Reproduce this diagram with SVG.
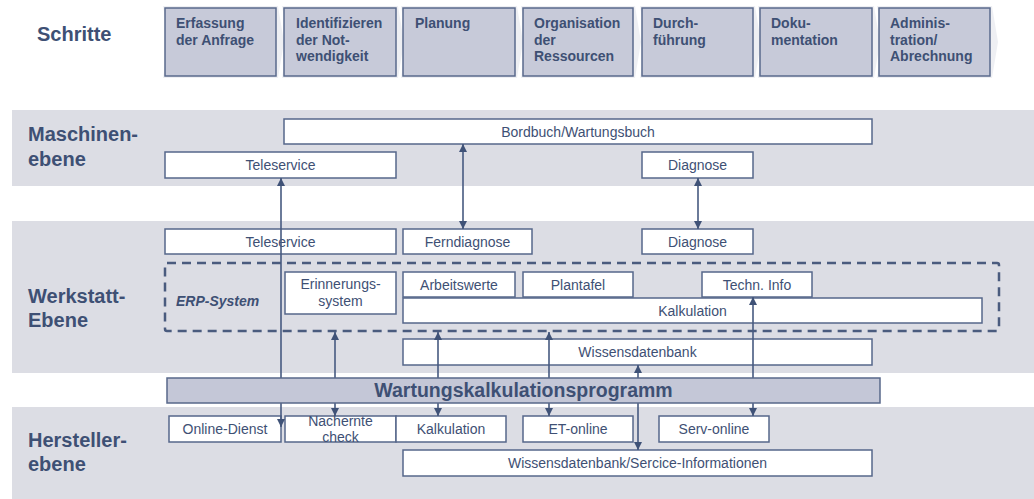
<svg xmlns="http://www.w3.org/2000/svg" width="1034" height="499" viewBox="0 0 1034 499">
<defs>
<style>
.band{fill:#dcdde4;}
.step{fill:#c7cad9;stroke:#5a6a8c;stroke-width:1.5;}
.chev{fill:#eeeff3;}
.box{fill:#ffffff;stroke:#56678a;stroke-width:1.5;}
.st{font-family:"Liberation Sans",Arial,sans-serif;font-weight:bold;font-size:14px;fill:#3e5074;}
.lvl{font-family:"Liberation Sans",Arial,sans-serif;font-weight:bold;font-size:20px;fill:#3e5074;}
.lb{font-family:"Liberation Sans",Arial,sans-serif;font-size:14px;fill:#3e5074;text-anchor:middle;}
.conn{stroke:#475a80;stroke-width:1.6;fill:none;marker-start:url(#ah);marker-end:url(#ah);}
.erp{fill:none;stroke:#4a5b7e;stroke-width:2.5;stroke-dasharray:9 6;}
.bar{fill:#c4c7d7;stroke:#58688a;stroke-width:1.5;}
</style>
<marker id="ah" viewBox="0 0 10 10" refX="10" refY="5" markerWidth="9" markerHeight="8" markerUnits="userSpaceOnUse" orient="auto-start-reverse">
<path d="M0,0 L10,5 L0,10 Z" fill="#3f5277"/>
</marker>
</defs>
<rect width="1034" height="499" fill="#ffffff"/>

<g id="bands">
<rect class="band" x="12" y="110" width="1022" height="76"/>
<rect class="band" x="12" y="221" width="1022" height="152"/>
<rect class="band" x="12" y="407" width="1022" height="92"/>
</g>

<g id="level-labels">
<text class="lvl" x="37" y="41" font-size="19.5">Schritte</text>
<text class="lvl" x="28" y="141">Maschinen-</text>
<text class="lvl" x="28" y="166">ebene</text>
<text class="lvl" x="28" y="303">Werkstatt-</text>
<text class="lvl" x="28" y="327">Ebene</text>
<text class="lvl" x="28" y="447">Hersteller-</text>
<text class="lvl" x="28" y="471">ebene</text>
</g>

<g id="steps">
<g id="step1">
<polygon class="chev" points="163,6 278,6 284,42 278,78 163,78 169,42"/>
<rect class="step" x="165" y="8" width="111" height="68"/>
<text class="st" x="176" y="28">Erfassung</text>
<text class="st" x="176" y="44.5">der Anfrage</text>
</g>
<g id="step2">
<polygon class="chev" points="282,6 398,6 404,42 398,78 282,78 288,42"/>
<rect class="step" x="284" y="8" width="112" height="68"/>
<text class="st" x="296" y="28">Identifizieren</text>
<text class="st" x="296" y="44.5">der Not-</text>
<text class="st" x="296" y="61">wendigkeit</text>
</g>
<g id="step3">
<polygon class="chev" points="401,6 517,6 523,42 517,78 401,78 407,42"/>
<rect class="step" x="403" y="8" width="112" height="68"/>
<text class="st" x="415" y="28">Planung</text>
</g>
<g id="step4">
<polygon class="chev" points="521,6 635,6 641,42 635,78 521,78 527,42"/>
<rect class="step" x="523" y="8" width="110" height="68"/>
<text class="st" x="534" y="28">Organisation</text>
<text class="st" x="534" y="44.5">der</text>
<text class="st" x="534" y="61">Ressourcen</text>
</g>
<g id="step5">
<polygon class="chev" points="640,6 755,6 761,42 755,78 640,78 646,42"/>
<rect class="step" x="642" y="8" width="111" height="68"/>
<text class="st" x="653" y="28">Durch-</text>
<text class="st" x="653" y="44.5">führung</text>
</g>
<g id="step6">
<polygon class="chev" points="758,6 874,6 880,42 874,78 758,78 764,42"/>
<rect class="step" x="760" y="8" width="112" height="68"/>
<text class="st" x="771" y="28">Doku-</text>
<text class="st" x="771" y="44.5">mentation</text>
</g>
<g id="step7">
<polygon class="chev" points="877,6 992,6 998,42 992,78 877,78 883,42"/>
<rect class="step" x="879" y="8" width="111" height="68"/>
<text class="st" x="890" y="28">Adminis-</text>
<text class="st" x="890" y="44.5">tration/</text>
<text class="st" x="890" y="61">Abrechnung</text>
</g>
</g>

<g id="maschinen-nodes">
<g id="bordbuch"><rect class="box" x="284" y="119" width="588" height="25"/><text class="lb" x="578" y="136.5">Bordbuch/Wartungsbuch</text></g>
<g id="teleservice-m"><rect class="box" x="165" y="152" width="231" height="26"/><text class="lb" x="280.5" y="170">Teleservice</text></g>
<g id="diagnose-m"><rect class="box" x="642" y="152" width="111" height="26"/><text class="lb" x="697.5" y="170">Diagnose</text></g>
</g>

<g id="werkstatt-nodes">
<g id="teleservice-w"><rect class="box" x="165" y="229" width="231" height="25"/><text class="lb" x="280.5" y="246.5">Teleservice</text></g>
<g id="ferndiagnose"><rect class="box" x="403" y="229" width="129" height="25"/><text class="lb" x="467.5" y="246.5">Ferndiagnose</text></g>
<g id="diagnose-w"><rect class="box" x="642" y="229" width="111" height="25"/><text class="lb" x="697.5" y="246.5">Diagnose</text></g>
<g id="erp-system">
<rect class="erp" x="165" y="263" width="834" height="68" rx="2"/>
<text x="176" y="306" font-family="Liberation Sans, Arial, sans-serif" font-size="14" font-weight="bold" font-style="italic" fill="#3e5074">ERP-System</text>
</g>
<g id="erinnerung"><rect class="box" x="285" y="272" width="111" height="42"/><text class="lb" x="340.5" y="289">Erinnerungs-</text><text class="lb" x="340.5" y="306">system</text></g>
<g id="arbeitswerte"><rect class="box" x="403" y="272" width="112" height="25"/><text class="lb" x="459" y="289.5">Arbeitswerte</text></g>
<g id="plantafel"><rect class="box" x="523" y="272" width="110" height="25"/><text class="lb" x="578" y="289.5">Plantafel</text></g>
<g id="techn-info"><rect class="box" x="702" y="272" width="110" height="25"/><text class="lb" x="757" y="289.5">Techn. Info</text></g>
<g id="kalkulation-w"><rect class="box" x="403" y="298" width="579" height="25"/><text class="lb" x="692.5" y="315.5">Kalkulation</text></g>
<g id="wissensdatenbank"><rect class="box" x="403" y="339" width="469" height="26"/><text class="lb" x="637.5" y="357">Wissensdatenbank</text></g>
</g>

<g id="hersteller-nodes">
<g id="online-dienst"><rect class="box" x="169" y="416" width="112" height="26"/><text class="lb" x="225" y="434">Online-Dienst</text></g>
<g id="nachernte"><rect class="box" x="285" y="416" width="111" height="26"/><text class="lb" x="340.5" y="426">Nachernte</text><text class="lb" x="340.5" y="442">check</text></g>
<g id="kalkulation-h"><rect class="box" x="396" y="416" width="110" height="26"/><text class="lb" x="451" y="434">Kalkulation</text></g>
<g id="et-online"><rect class="box" x="523" y="416" width="110" height="26"/><text class="lb" x="578" y="434">ET-online</text></g>
<g id="serv-online"><rect class="box" x="659" y="416" width="110" height="26"/><text class="lb" x="714" y="434">Serv-online</text></g>
<g id="wdb-service"><rect class="box" x="403" y="450" width="469" height="26"/><text class="lb" x="637.5" y="468">Wissensdatenbank/Sercice-Informationen</text></g>
</g>

<g id="connectors">
<line class="conn" x1="463" y1="144" x2="463" y2="229"/>
<line class="conn" x1="698" y1="178" x2="698" y2="229"/>
<line class="conn" x1="281" y1="178" x2="281" y2="427"/>
<line class="conn" x1="335" y1="332" x2="335" y2="416"/>
<line class="conn" x1="438" y1="332" x2="438" y2="416"/>
<line class="conn" x1="549" y1="332" x2="549" y2="416"/>
<line class="conn" x1="638" y1="365" x2="638" y2="450"/>
<line class="conn" x1="753" y1="297" x2="753" y2="416"/>
</g>

<g id="wartungskalkulationsprogramm">
<rect class="bar" x="167" y="378" width="713" height="25"/>
<text x="523.5" y="397" text-anchor="middle" font-family="Liberation Sans, Arial, sans-serif" font-size="19.5" font-weight="bold" fill="#3e5074">Wartungskalkulationsprogramm</text>
</g>
</svg>
